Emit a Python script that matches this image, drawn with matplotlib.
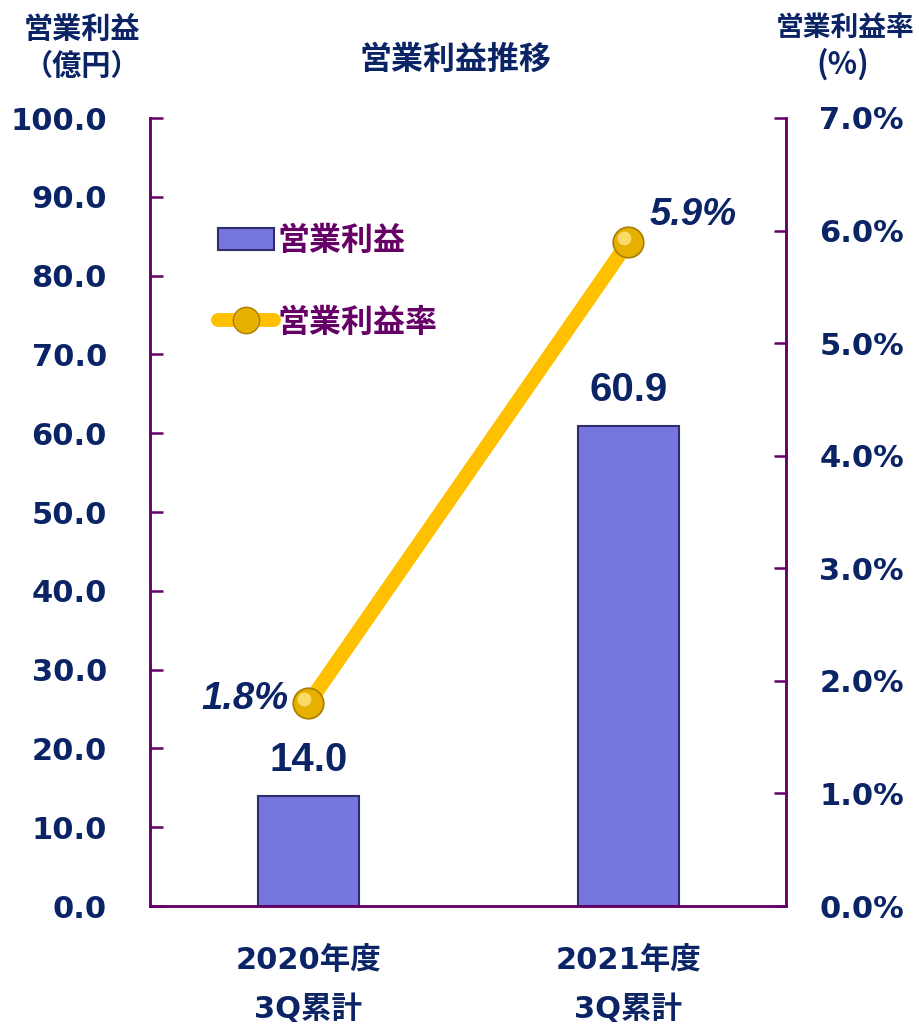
import matplotlib
matplotlib.use("Agg")
import matplotlib.pyplot as plt
import matplotlib.transforms as mtransforms
from matplotlib.lines import Line2D
from matplotlib.patches import Patch
from matplotlib.ticker import FixedLocator, FuncFormatter

# ---- data ----
categories = ["2020年度\n3Q累計", "2021年度\n3Q累計"]
profit = [14.0, 60.9]          # 営業利益（億円）
margin = [1.8, 5.9]            # 営業利益率（%）
left_ticks = [0, 10, 20, 30, 40, 50, 60, 70, 80, 90, 100]
right_ticks = [0, 1, 2, 3, 4, 5, 6, 7]

NAVY = "#0B2466"
PURPLE = "#660066"
BAR = "#7676DE"
GOLD = "#FFC000"

CJK = ["Noto Sans CJK JP", "DejaVu Sans"]
NUM = ["DejaVu Sans", "Noto Sans CJK JP"]
NARROW = ["Liberation Sans", "DejaVu Sans"]

fig = plt.figure(figsize=(9.19, 10.27), dpi=100)
ax = fig.add_axes([150/919, 1-906/1027, (786-150)/919, (906-118)/1027])
ax2 = ax.twinx()

x = list(range(len(categories)))
ax.bar(x, profit, width=0.315, color=BAR, edgecolor="#2E2E6E", linewidth=1.5, zorder=2)
ax.set_xlim(-0.495, 1.4925)
ax.set_ylim(0, 100)
ax2.set_ylim(0, 7)

ax2.plot(x, margin, color=GOLD, linewidth=10.5, solid_capstyle="round", zorder=3)
ax2.plot(x, margin, linestyle="none", marker="o", markersize=22,
         markerfacecolor="#E6B000", markeredgecolor="#A87E00", markeredgewidth=1.2, zorder=4)
hl = mtransforms.offset_copy(ax2.transData, fig=fig, x=-4, y=4, units="dots")
ax2.plot(x, margin, linestyle="none", marker="o", markersize=10, transform=hl,
         markerfacecolor="#FFE27A", markeredgewidth=0, alpha=0.85, zorder=5)

for a in (ax, ax2):
    a.spines["top"].set_visible(False)
    for s in ["left", "bottom", "right"]:
        a.spines[s].set_color(PURPLE)
        a.spines[s].set_linewidth(1.8)

ax.yaxis.set_major_locator(FixedLocator(left_ticks))
ax.yaxis.set_major_formatter(FuncFormatter(lambda v, p: f"{v:.1f}"))
ax2.yaxis.set_major_locator(FixedLocator(right_ticks))
ax2.yaxis.set_major_formatter(FuncFormatter(lambda v, p: f"{v:.1f}%"))

ax.tick_params(axis="y", direction="in", length=9, width=1.8, color=PURPLE, pad=31,
               labelsize=22, labelcolor=NAVY)
ax2.tick_params(axis="y", direction="in", length=9, width=1.8, color=PURPLE, pad=24,
                labelsize=22, labelcolor=NAVY)
for lab in ax.get_yticklabels() + ax2.get_yticklabels():
    lab.set_fontweight("bold")
    lab.set_family(NUM)

ax.set_xticks(x)
ax.set_xticklabels(categories, fontsize=22, fontweight="bold", color=NAVY,
                   family=NUM, linespacing=1.8)
ax.tick_params(axis="x", length=0, pad=29)

# data labels
for xi, v in zip(x, profit):
    ax.annotate(f"{v:.1f}", (xi, v), xytext=(0, 12), textcoords="offset points",
                ha="center", va="bottom", fontsize=29, fontweight="bold",
                color=NAVY, family=NARROW)
ax2.annotate(f"{margin[0]:.1f}%", (x[0], margin[0]), xytext=(-14, 3), textcoords="offset points",
             ha="right", va="center", fontsize=27.5, fontweight="bold", style="italic",
             color=NAVY, family=NARROW)
ax2.annotate(f"{margin[1]:.1f}%", (x[1], margin[1]), xytext=(15, 19), textcoords="offset points",
             ha="left", va="center", fontsize=27.5, fontweight="bold", style="italic",
             color=NAVY, family=NARROW)

# legend
handles = [
    Patch(facecolor=BAR, edgecolor="#2E2E6E", linewidth=1.5),
    Line2D([0], [0], color=GOLD, linewidth=10, solid_capstyle="round", marker="o",
           markersize=19, markerfacecolor="#E6B000", markeredgecolor="#A87E00"),
]
leg = ax.legend(handles, ["営業利益", "営業利益率"], loc="upper left",
                bbox_to_anchor=(68/636, 1-107/788), frameon=False,
                prop={"family": CJK, "weight": "bold", "size": 23},
                handlelength=1.75, handleheight=0.68, handletextpad=0.1,
                labelspacing=1.55, borderpad=0, borderaxespad=0)
for t in leg.get_texts():
    t.set_color(PURPLE)

# titles
fig.text(82/919, 1-14/1027, "営業利益\n（億円）", ha="center", va="top",
         fontsize=21, fontweight="bold", color=NAVY, family=CJK, linespacing=1.3)
fig.text(845/919, 1-14/1027, "営業利益率", ha="center", va="top",
         fontsize=20, fontweight="bold", color=NAVY, family=CJK)
fig.text(843/919, 1-64/1027, "(%)", ha="center", va="center",
         fontsize=22, fontweight="bold", color=NAVY, family=CJK)
fig.text(456/919, 1-60/1027, "営業利益推移", ha="center", va="center",
         fontsize=23, fontweight="bold", color=NAVY, family=CJK)

fig.savefig("out.png", dpi=100)
